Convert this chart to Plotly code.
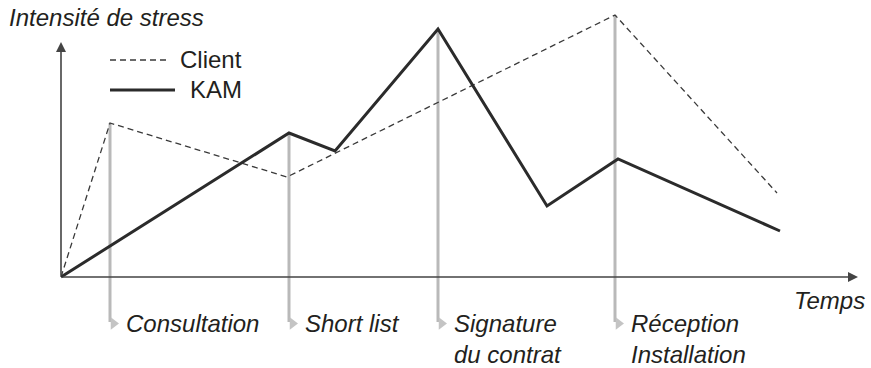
import plotly.graph_objects as go

# ---- data (time units, stress units) ----
client_t = [0, 4.9, 22.6, 55.4, 71.6]
client_s = [0, 15.4, 10.0, 26.2, 8.4]

kam_t = [0, 22.8, 27.4, 37.7, 48.6, 55.7, 71.9]
kam_s = [0, 14.4, 12.6, 24.8, 7.1, 11.8, 4.6]

milestone_t = [4.9, 22.8, 37.7, 55.4]
milestone_top = [15.4, 14.4, 24.8, 26.2]
milestone_labels = ["Consultation", "Short list", "Signature<br>du contrat", "Réception<br>Installation"]
milestone_bottom = -4.5

FONT = "Liberation Sans, Arial, Helvetica, sans-serif"
TXT = "#231f20"
FS = 24

fig = go.Figure()

# gray milestone lines
for t, top in zip(milestone_t, milestone_top):
    fig.add_trace(go.Scatter(x=[t, t], y=[top, milestone_bottom], mode="lines",
                             line=dict(color="#b9b9b9", width=3), hoverinfo="skip", showlegend=False))
fig.add_trace(go.Scatter(x=[t + 0.35 for t in milestone_t], y=[milestone_bottom - 0.15] * len(milestone_t),
                         mode="markers", marker=dict(symbol="triangle-right", size=11, color="#c4c4c4"),
                         hoverinfo="skip", showlegend=False, cliponaxis=False))

# data lines
fig.add_trace(go.Scatter(x=client_t, y=client_s, mode="lines", name="Client",
                         line=dict(color="#3a3a3a", width=1.3, dash="6px,4px"), showlegend=False))
fig.add_trace(go.Scatter(x=kam_t, y=kam_s, mode="lines", name="KAM",
                         line=dict(color="#2b2b2b", width=3), showlegend=False))

annotations = []
# axes with arrows
annotations.append(dict(x=0, y=23.5, ax=0, ay=0, xref="x", yref="y", axref="x", ayref="y",
                        text="", showarrow=True, arrowhead=2, arrowsize=1.25, arrowwidth=1.6,
                        arrowcolor="#444444", standoff=0, startstandoff=0))
annotations.append(dict(x=79.7, y=0, ax=0, ay=0, xref="x", yref="y", axref="x", ayref="y",
                        text="", showarrow=True, arrowhead=2, arrowsize=1.25, arrowwidth=1.6,
                        arrowcolor="#444444", standoff=0, startstandoff=0))

# axis titles
annotations.append(dict(x=-5.4, y=26.0, xref="x", yref="y", xanchor="left", yanchor="middle",
                        text="<i>Intensité de stress</i>", showarrow=False,
                        font=dict(family=FONT, size=FS, color=TXT)))
annotations.append(dict(x=80.6, y=-2.3, xref="x", yref="y", xanchor="right", yanchor="middle",
                        text="<i>Temps</i>", showarrow=False,
                        font=dict(family=FONT, size=FS, color=TXT)))

# milestone labels
for t, lab in zip(milestone_t, milestone_labels):
    annotations.append(dict(x=t + 1.4, y=-3.1, xref="x", yref="y", xanchor="left", yanchor="top",
                            align="left", text="<i>" + lab + "</i>", showarrow=False,
                            font=dict(family=FONT, size=FS, color=TXT)))

# manual legend
legend_names = ["Client", "KAM"]
legend_y = [21.7, 18.7]
legend_dash = ["6px,4px", "solid"]
legend_w = [1.3, 3]
legend_end = [10.9, 11.4]
shapes = []
for nm, yy, dsh, w, xe in zip(legend_names, legend_y, legend_dash, legend_w, legend_end):
    shapes.append(dict(type="line", xref="x", yref="y", x0=4.9, x1=xe, y0=yy, y1=yy,
                       line=dict(color="#2b2b2b" if w > 2 else "#3a3a3a", width=w, dash=dsh)))
    annotations.append(dict(x=18.3, y=yy + 0.1, xref="x", yref="y", xanchor="right", yanchor="middle",
                            text=nm, showarrow=False, font=dict(family=FONT, size=FS, color=TXT)))

fig.update_layout(
    width=871, height=368,
    margin=dict(l=0, r=0, t=0, b=0),
    paper_bgcolor="white", plot_bgcolor="white",
    xaxis=dict(range=[-6.1, 81.0], visible=False, fixedrange=True),
    yaxis=dict(range=[-9.1, 27.7], visible=False, fixedrange=True),
    annotations=annotations, shapes=shapes,
    showlegend=False,
)

fig.write_html("out.html", config={"displayModeBar": False},
               post_script="document.body.style.margin='0';document.body.style.overflow='hidden';")
